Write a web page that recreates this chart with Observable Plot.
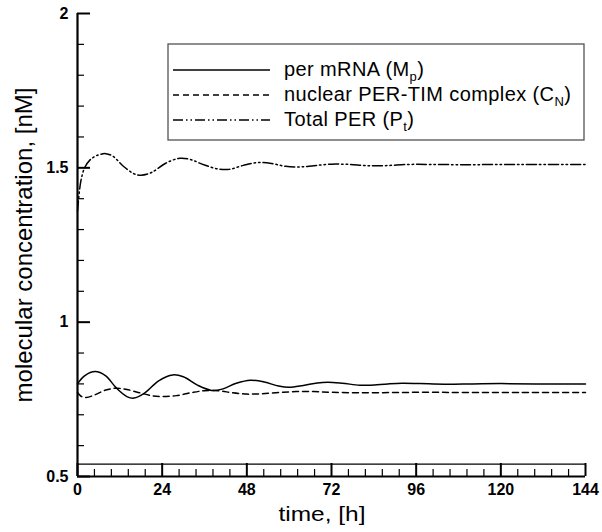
<!DOCTYPE html>
<html>
<head>
<meta charset="utf-8">
<script src="https://cdn.jsdelivr.net/npm/d3@7"></script>
<script src="https://cdn.jsdelivr.net/npm/@observablehq/plot@0.6"></script>
<style>
  html, body { margin: 0; padding: 0; background: #fff; }
  #chart { position: relative; width: 602px; height: 532px; }
  svg { font-family: "Liberation Sans", Arial, Helvetica, sans-serif; }
</style>
</head>
<body>
<div id="chart"></div>
<script>
// ---- data ----
const seriesNames = ["per mRNA (M_p)", "nuclear PER-TIM complex (C_N)", "Total PER (P_t)"];
const xTitle = "time, [h]";
const yTitle = "molecular concentration, [nM]";

const mpTime = [0, 2, 5, 8, 11, 14, 16, 19, 23, 27, 30, 34, 38, 41, 45, 49, 53, 57, 60, 64, 68, 71, 75, 80, 83, 88, 92, 97, 104, 112, 120, 130, 144];
const mpValue = [0.800, 0.826, 0.840, 0.826, 0.787, 0.759, 0.754, 0.770, 0.810, 0.829, 0.823, 0.796, 0.779, 0.783, 0.802, 0.812, 0.806, 0.793, 0.789, 0.795, 0.803, 0.805, 0.802, 0.796, 0.796, 0.800, 0.802, 0.801, 0.799, 0.800, 0.801, 0.800, 0.800];

const cnTime = [0, 1, 2.5, 5, 8, 11, 14, 18, 21, 24, 28, 32, 36, 40, 44, 48, 52, 57, 62, 67, 72, 80, 90, 100, 110, 125, 144];
const cnValue = [0.772, 0.760, 0.756, 0.765, 0.780, 0.786, 0.782, 0.770, 0.762, 0.759, 0.762, 0.771, 0.778, 0.778, 0.771, 0.767, 0.768, 0.772, 0.775, 0.775, 0.773, 0.771, 0.772, 0.773, 0.772, 0.772, 0.772];

const ptTime = [0, 0.5, 1, 2, 3.5, 5.5, 8, 10, 13, 16, 18, 21, 25, 29, 32, 36, 40, 43, 47, 51, 55, 59, 63, 67, 72, 77, 82, 87, 94, 100, 110, 120, 130, 144];
const ptValue = [1.36, 1.42, 1.46, 1.50, 1.525, 1.540, 1.546, 1.538, 1.505, 1.481, 1.476, 1.485, 1.515, 1.531, 1.527, 1.509, 1.496, 1.495, 1.508, 1.517, 1.514, 1.505, 1.503, 1.507, 1.512, 1.511, 1.507, 1.507, 1.511, 1.511, 1.510, 1.511, 1.511, 1.511];

const baseLevel = [0.54];   // thin horizontal line just above the time axis

const xMajor = [0, 24, 48, 72, 96, 120, 144];
const xMinor = d3.range(0, 144.01, 4.8).filter(v => !xMajor.some(m => Math.abs(m - v) < 1e-6));
const yMajor = [0.5, 1, 1.5, 2];
const yMinor = [0.6, 0.7, 0.8, 0.9, 1.1, 1.2, 1.3, 1.4, 1.6, 1.7, 1.8, 1.9];

const xDomain = [0, 144];
const yDomain = [0.5, 2];

// ---- build rows ----
const toRows = (ts, vs) => ts.map((t, i) => ({t, v: vs[i]}));
const mp = toRows(mpTime, mpValue);
const cn = toRows(cnTime, cnValue);
const pt = toRows(ptTime, ptValue);

const lineW = 1.5;
const dashCN = "6,4";
const dashPT = "10,3,1.5,3,1.5,3";
const fontFam = '"Liberation Sans", Arial, Helvetica, sans-serif';

const plot = Plot.plot({
  width: 602,
  height: 532,
  marginLeft: 77,
  marginRight: 17,
  marginTop: 13,
  marginBottom: 56,
  style: {fontFamily: fontFam, background: "#fff", color: "#000", overflow: "visible"},
  x: {domain: xDomain},
  y: {domain: yDomain},
  marks: [
    Plot.ruleY(baseLevel, {x1: xDomain[0], x2: xDomain[1], stroke: "#000", strokeWidth: 1.2}),
    // minor / major ticks pointing inward
    Plot.axisX({ticks: xMinor, tickSize: -7, text: null, label: null, strokeWidth: 1.2}),
    Plot.axisX({ticks: xMajor, tickSize: -13, text: null, label: null, strokeWidth: 2}),
    Plot.axisX({ticks: xMajor, tickSize: 0, tickPadding: 7, tickFormat: d => String(d), fontSize: 16, fontWeight: "bold", label: null}),
    Plot.axisY({ticks: yMinor, tickSize: -7, text: null, label: null, strokeWidth: 1.2}),
    Plot.axisY({ticks: yMajor, tickSize: -13, text: null, label: null, strokeWidth: 2}),
    Plot.axisY({ticks: yMajor, tickSize: 0, tickPadding: 9, tickFormat: d => String(d), fontSize: 16, fontWeight: "bold", label: null}),
    // axis lines
    Plot.ruleX([xDomain[0]], {y1: yDomain[0], y2: yDomain[1], stroke: "#000", strokeWidth: 2.2}),
    Plot.ruleY([yDomain[0]], {x1: xDomain[0], x2: xDomain[1], stroke: "#000", strokeWidth: 2.2}),
    // series
    Plot.line(mp, {x: "t", y: "v", curve: "catmull-rom", stroke: "#000", strokeWidth: lineW}),
    Plot.line(cn, {x: "t", y: "v", curve: "catmull-rom", stroke: "#000", strokeWidth: lineW, strokeDasharray: dashCN}),
    Plot.line(pt, {x: "t", y: "v", curve: "catmull-rom", stroke: "#000", strokeWidth: lineW, strokeDasharray: dashPT})
  ]
});

const svg = d3.select(plot);

// ---- axis titles ----
svg.append("text").attr("x", 322).attr("y", 521).attr("text-anchor", "middle")
  .attr("font-family", fontFam).attr("font-size", 21).attr("fill", "#000")
  .attr("textLength", 87).attr("lengthAdjust", "spacingAndGlyphs").text(xTitle);
svg.append("text").attr("transform", "translate(32,245) rotate(-90)").attr("text-anchor", "middle")
  .attr("font-family", fontFam).attr("font-size", 24).attr("fill", "#000").text(yTitle);

// ---- legend box inside the plot ----
const lg = svg.append("g").attr("class", "legend").attr("font-family", fontFam).attr("font-size", 20)
  .attr("letter-spacing", "0.4px").attr("text-anchor", "start");
const box = {x: 168, y: 44, w: 416, h: 96};
lg.append("rect").attr("x", box.x).attr("y", box.y).attr("width", box.w).attr("height", box.h)
  .attr("fill", "#fff").attr("stroke", "#444").attr("stroke-width", 1.2);
const dashes = [null, dashCN, dashPT];
const rowY = [70, 95, 120];
seriesNames.forEach((name, i) => {
  const y = rowY[i];
  lg.append("line").attr("x1", box.x + 5).attr("x2", box.x + 102).attr("y1", y).attr("y2", y)
    .attr("stroke", "#000").attr("stroke-width", lineW).attr("stroke-dasharray", dashes[i]);
  const [main, sub] = name.split("_");
  const txt = lg.append("text").attr("x", box.x + 116).attr("y", y + 6).attr("fill", "#000");
  txt.append("tspan").text(main);
  txt.append("tspan").attr("font-size", 13).attr("dy", 5).text(sub.replace(/\)$/, ""));
  txt.append("tspan").attr("dy", -5).text(")");
});

document.getElementById("chart").appendChild(plot);
</script>
</body>
</html>
